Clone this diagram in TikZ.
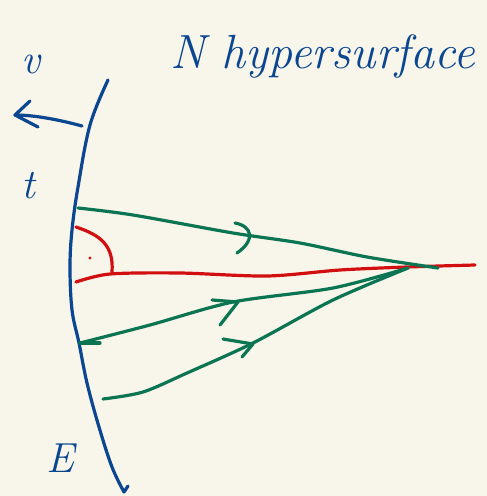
\documentclass[tikz,border=0pt]{standalone}
\usetikzlibrary{calc}
\definecolor{bg}{HTML}{F8F6EA}
\definecolor{ink}{HTML}{0B4690}
\definecolor{ray}{HTML}{0B7553}
\definecolor{redink}{HTML}{D20F10}
\tikzset{
  pen/.style={line width=3.2pt, line cap=round, line join=round},
  surf/.style={pen, draw=ink},
  rayline/.style={pen, draw=ray},
  redline/.style={pen, draw=redink},
  lbl/.style={text=ink, font=\itshape\fontsize{42}{44}\selectfont, inner sep=0pt},
}
\begin{document}
\begin{tikzpicture}[x=1pt,y=-1pt]
\path[fill=bg] (0,0) rectangle (487,496);
\useasboundingbox (0,0) rectangle (487,496);
% title
\node[text=ink, font=\itshape\fontsize{48}{52}\selectfont, inner sep=0pt, anchor=west] (title) at (170,56) {N hypersurface};
% hypersurface
\draw[surf] plot[smooth, tension=0.6] coordinates {(108,80) (90,125) (78,187) (72,230) (70,267) (72,310) (79,343) (87,383) (99,427) (112,467) (124,492)} -- (128,486);
% labels
\node[lbl] (v) at (31,64) {v};
\node[lbl] (t) at (28,186) {t};
\node[lbl] (E) at (60,458) {E};
\coordinate (arS) at (82,126);
\coordinate (arE) at (15,115);
\draw[surf] (arS) .. controls (60,120) and (35,115) .. (arE);
\draw[surf] (30,101) -- (arE) -- (38,127);
% red line and right-angle mark
\coordinate (rS) at (76,282);
\coordinate (rE) at (475,265);
\draw[redline] plot[smooth, tension=0.5] coordinates {(rS) (110,274) (180,273) (267,276) (340,270) (407,267) (rE)};
\draw[redline] (76,227) .. controls (100,235) and (114,245) .. (112,272);
\fill[redink] (90,258) circle (1.6pt);
% rays
\coordinate (f) at (408,268);
\coordinate (a1) at (78,208);
\coordinate (a2) at (80,343);
\coordinate (a3) at (103,399);
\draw[rayline] plot[smooth, tension=0.5] coordinates {(a1) (133,215) (233,233) (300,243) (367,257) (438,268)};
\draw[rayline] (235,223) .. controls (252,226) and (256,240) .. (237,253);
\draw[rayline] plot[smooth, tension=0.5] coordinates {(a2) (150,325) (233,302) (333,288) (f)};
\draw[rayline] (a2) -- (100,343);
\draw[rayline] (212,300) -- (238,302) -- (220,325);
\draw[rayline] plot[smooth, tension=0.5] coordinates {(a3) (143,392) (187,373) (253,343) (333,300) (f)};
\draw[rayline] (223,339) -- (253,344) -- (242,357);
\end{tikzpicture}
\end{document}
